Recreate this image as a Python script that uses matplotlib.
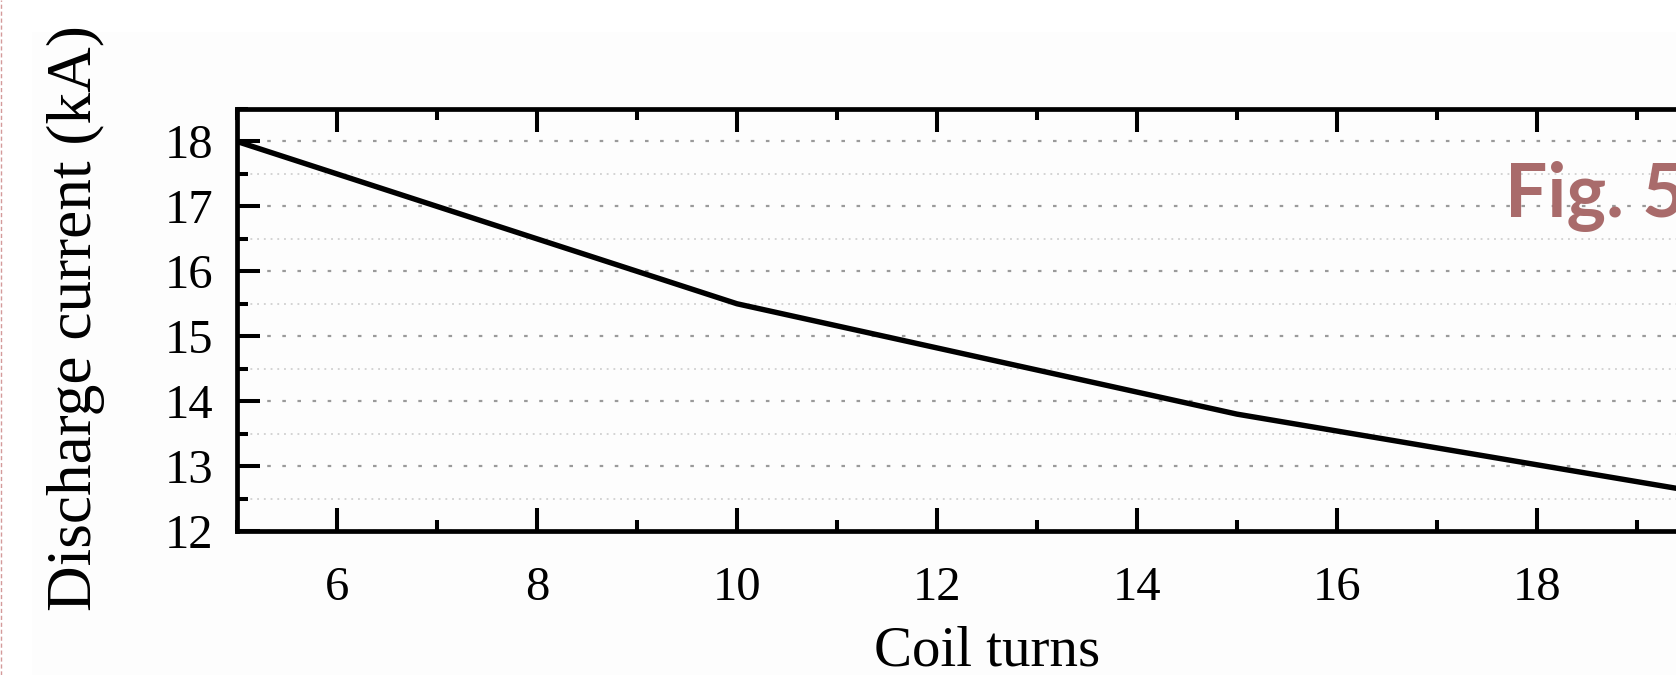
import matplotlib
matplotlib.use("Agg")
import matplotlib.pyplot as plt
from matplotlib.ticker import MultipleLocator
from matplotlib.patches import Rectangle
from matplotlib.lines import Line2D

coil_turns = [5, 10, 15, 20]
discharge_current = [18.0, 15.5, 13.8, 12.5]
x_ticks = [6, 8, 10, 12, 14, 16, 18]
y_ticks = [12, 13, 14, 15, 16, 17, 18]

W, H = 1676, 675
fig = plt.figure(figsize=(W / 100, H / 100), dpi=100, facecolor="white")

# page background
fig.patches.append(Rectangle((32 / W, 0), 1 - 32 / W, 1 - 32 / H, transform=fig.transFigure,
                             facecolor="#FDFDFD", edgecolor="none", zorder=-10))
fig.lines.append(Line2D([1 / W, 1 / W], [0, 1], transform=fig.transFigure, color="#D49A9A",
                        linewidth=1.0, linestyle=(0, (3, 2)), zorder=-5))

ax = fig.add_axes([237 / W, (H - 531) / H, (1737 - 237) / W, (531 - 109) / H])
ax.set_facecolor("none")
ax.set_zorder(2)

ax.plot(coil_turns, discharge_current, color="black", linewidth=3.9, solid_joinstyle="round", zorder=3)

ax.set_xlim(5, 20)
ax.set_ylim(12, 18.5)
ax.set_xticks(x_ticks)
ax.set_yticks(y_ticks)
ax.xaxis.set_minor_locator(MultipleLocator(1))
ax.yaxis.set_minor_locator(MultipleLocator(0.5))

serif = ["Liberation Serif", "DejaVu Serif"]
for lab in ax.get_xticklabels() + ax.get_yticklabels():
    lab.set_fontfamily(serif)
ax.tick_params(axis="both", which="major", direction="in", length=16.5, width=2.9,
               labelsize=35, top=True, right=True, color="black")
ax.tick_params(axis="both", which="minor", direction="in", length=8.0, width=2.9,
               top=True, right=True, color="black")
ax.tick_params(axis="x", which="major", pad=25)
ax.tick_params(axis="y", which="major", pad=17)

for s in ax.spines.values():
    s.set_linewidth(3.4)
    s.set_color("black")

ax.yaxis.grid(True, which="major", color="#9A9A9A", linewidth=1.6, linestyle=(0, (1.6, 5.2)))
ax.yaxis.grid(True, which="minor", color="#C8C8C8", linewidth=1.1, linestyle=(0, (1.2, 3.2)))
ax.set_axisbelow(True)

# axis titles
fig.text(987 / W, 1 - 665 / H, "Coil turns", fontfamily=serif, fontsize=41,
         ha="center", va="baseline")
fig.text(91 / W, 1 - 318 / H, "Discharge current (kA)", fontfamily=serif, fontsize=45.5,
         rotation=90, rotation_mode="anchor", ha="center", va="baseline")

fig.text(1505 / W, 1 - 217 / H, "Fig. 5", fontfamily=["Lato", "DejaVu Sans"], fontweight="bold",
         fontsize=54, color="#A96B6B", ha="left", va="baseline", zorder=5)

fig.savefig("out.png", dpi=100, facecolor=fig.get_facecolor())
